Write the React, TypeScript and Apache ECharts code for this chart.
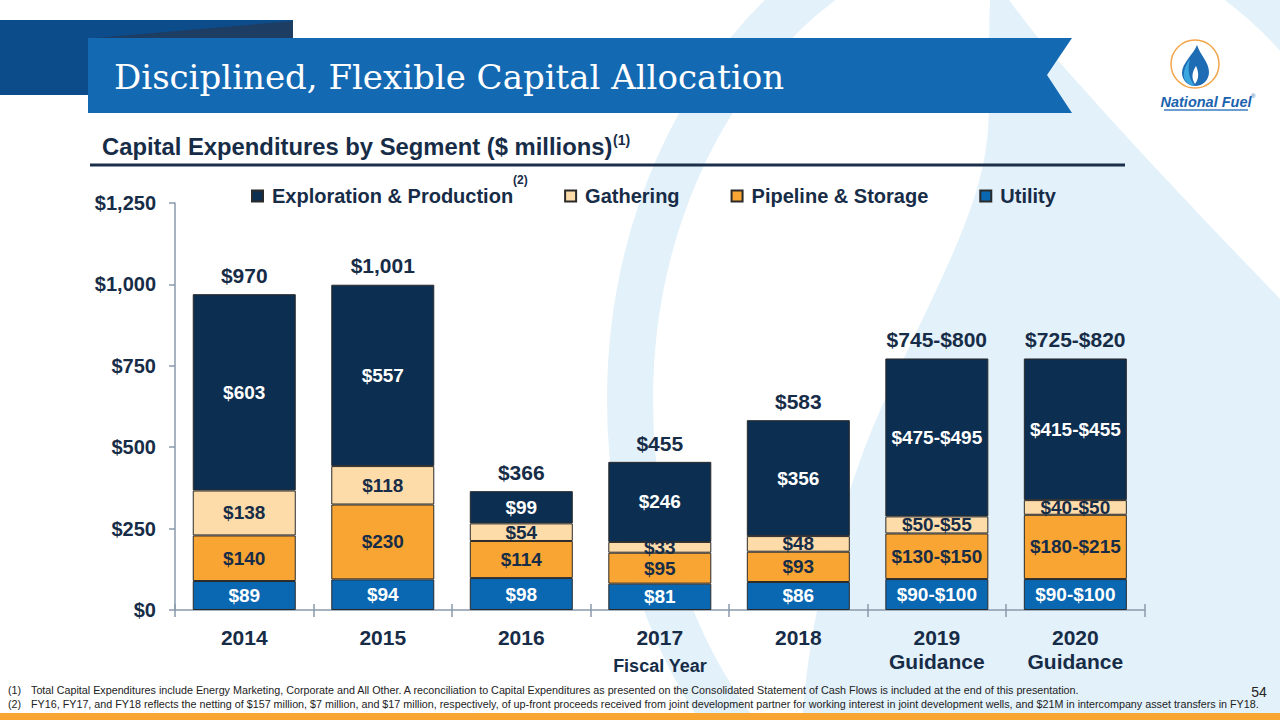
import React, { useEffect, useRef } from "react";
import * as echarts from "echarts";

const categories = ["2014", "2015", "2016", "2017", "2018", "2019\nGuidance", "2020\nGuidance"];
const utility = [89, 94, 98, 81, 86, 95, 95];
const utilityLabels = ["$89", "$94", "$98", "$81", "$86", "$90-$100", "$90-$100"];
const pipeline = [140, 230, 114, 95, 93, 140, 197.5];
const pipelineLabels = ["$140", "$230", "$114", "$95", "$93", "$130-$150", "$180-$215"];
const gathering = [138, 118, 54, 33, 48, 52.5, 45];
const gatheringLabels = ["$138", "$118", "$54", "$33", "$48", "$50-$55", "$40-$50"];
const exploration = [603, 557, 99, 246, 356, 485, 435];
const explorationLabels = ["$603", "$557", "$99", "$246", "$356", "$475-$495", "$415-$455"];
const totals = [970, 1001, 366, 455, 583, 772.5, 772.5];
const totalLabels = ["$970", "$1,001", "$366", "$455", "$583", "$745-$800", "$725-$820"];
const yTickLabels = ["$0", "$250", "$500", "$750", "$1,000", "$1,250"];
const legendNames = ["Exploration & Production", "Gathering", "Pipeline & Storage", "Utility"];

const FOOT1 =
  "Total Capital Expenditures include Energy Marketing, Corporate and All Other. A reconciliation to Capital Expenditures as presented on the Consolidated Statement of Cash Flows is included at the end of this presentation.";
const FOOT2 =
  "FY16, FY17, and FY18 reflects the netting of $157 million, $7 million, and $17 million, respectively, of up-front proceeds received from joint development partner for working interest in joint development wells, and $21M in intercompany asset transfers in FY18.";

const SANS = "Liberation Sans, Arial, sans-serif";
const DARK = "#172C47";
const WM = "#E3F1FA";

let registered = false;
function registerShapes() {
  if (registered) return;
  registered = true;
  echarts.graphic.registerShape(
    "wmFlame",
    echarts.graphic.extendPath(
      "M 992 -30 C 986 40 992 100 987 140 C 978 230 905 340 862 455 C 830 545 805 630 800 760 L 1400 760 L 1400 420 C 1330 350 1180 200 1040 40 C 1020 15 1000 -10 992 -30 Z",
      {}
    )
  );
  echarts.graphic.registerShape(
    "logoFlame",
    echarts.graphic.extendPath(
      "M 1197 45 C 1193 55 1182 63 1182 73 C 1182 80 1188 86 1195 86 C 1203 86 1209 80 1209 72 C 1209 62 1200 55 1197 45 Z",
      {}
    )
  );
  echarts.graphic.registerShape(
    "logoInner",
    echarts.graphic.extendPath(
      "M 1190 59 C 1185 66 1183 72 1184 78 C 1186 83 1191 86 1195 86 C 1189 79 1187 70 1190 59 Z",
      {}
    )
  );
  echarts.graphic.registerShape(
    "logoWhite",
    echarts.graphic.extendPath(
      "M 1196 66 C 1192 72 1191 78 1195 84 C 1199 79 1199 72 1196 66 Z",
      {}
    )
  );
}

export default function App() {
  const ref = useRef<HTMLDivElement>(null);

  useEffect(() => {
    if (!ref.current) return;
    registerShapes();
    const chart = echarts.init(ref.current, null, { renderer: "svg" });

    const segLabel = (labels: string[], color: string) => ({
      show: true,
      position: "inside",
      formatter: (p: any) => labels[p.dataIndex],
      color,
      fontSize: 19,
      fontWeight: "bold",
      fontFamily: SANS,
    });

    const common = {
      type: "bar",
      stack: "capex",
      barWidth: 103,
      xAxisIndex: 0,
      yAxisIndex: 0,
    };

    const border = { borderColor: "#2A2A2A", borderWidth: 1 };
    const foot = "10.75px " + SANS;

    const option: any = {
      animation: false,
      backgroundColor: "#ffffff",
      textStyle: { fontFamily: SANS },
      grid: { left: 175, right: 135.4, top: 203, bottom: 110, containLabel: false },
      legend: {
        data: legendNames,
        left: 251,
        top: 186,
        padding: 0,
        itemGap: 51,
        itemWidth: 11,
        itemHeight: 11,
        icon: "rect",
        textStyle: { fontSize: 20, fontWeight: "bold", color: DARK, fontFamily: SANS, padding: [0, 0, 0, 4] },
        selectedMode: false,
      },
      xAxis: [
        {
          type: "category",
          data: categories,
          position: "bottom",
          axisLine: { show: true, lineStyle: { color: "#8A9AAB", width: 1.5 } },
          axisTick: { show: true, length: 7, lineStyle: { color: "#8A9AAB", width: 1.5 } },
          axisLabel: {
            fontSize: 21,
            fontWeight: "bold",
            color: DARK,
            fontFamily: SANS,
            margin: 15,
            lineHeight: 24,
          },
        },
        {
          type: "category",
          data: categories,
          position: "bottom",
          axisLine: { show: false },
          axisTick: { show: true, inside: true, length: 6, lineStyle: { color: "#8A9AAB", width: 1.5 } },
          axisLabel: { show: false },
        },
      ],
      yAxis: {
        type: "value",
        min: 0,
        max: 1250,
        interval: 250,
        axisLine: { show: true, lineStyle: { color: "#8A9AAB", width: 1.5 } },
        axisTick: { show: true, length: 6, lineStyle: { color: "#8A9AAB", width: 1.5 } },
        splitLine: { show: false },
        axisLabel: {
          formatter: (v: number) => yTickLabels[Math.round(v / 250)],
          fontSize: 20,
          fontWeight: "bold",
          color: DARK,
          fontFamily: SANS,
          margin: 19,
        },
      },
      series: [
        {
          ...common,
          name: "Utility",
          data: utility,
          itemStyle: { color: "#0A67B2", ...border },
          label: segLabel(utilityLabels, "#ffffff"),
        },
        {
          ...common,
          name: "Pipeline & Storage",
          data: pipeline,
          itemStyle: { color: "#F9A533", ...border },
          label: segLabel(pipelineLabels, DARK),
        },
        {
          ...common,
          name: "Gathering",
          data: gathering,
          itemStyle: { color: "#FEDCAA", ...border },
          label: segLabel(gatheringLabels, DARK),
        },
        {
          ...common,
          name: "Exploration & Production",
          data: exploration,
          itemStyle: { color: "#0C2E50", ...border },
          label: segLabel(explorationLabels, "#ffffff"),
        },
        {
          type: "bar",
          name: "Total",
          data: totals,
          barWidth: 103,
          barGap: "-100%",
          z: 1,
          silent: true,
          itemStyle: { color: "rgba(0,0,0,0)" },
          label: {
            show: true,
            position: "top",
            distance: 8,
            formatter: (p: any) => totalLabels[p.dataIndex],
            color: DARK,
            fontSize: 21,
            fontWeight: "bold",
            fontFamily: SANS,
          },
        },
      ],
      graphic: [
        // watermark
        {
          type: "ellipse",
          z: -10,
          silent: true,
          shape: { cx: 1030, cy: 400, rx: 400, ry: 490 },
          style: { fill: "none", stroke: WM, lineWidth: 46 },
        },
        { type: "wmFlame", z: -10, silent: true, style: { fill: WM } },
        // banner
        { type: "rect", z: 10, shape: { x: 0, y: 20, width: 293, height: 75 }, style: { fill: "#0C4C8B" } },
        {
          type: "polygon",
          z: 10,
          shape: { points: [[95, 38], [293, 21], [293, 38]] },
          style: { fill: "#1E3D63" },
        },
        {
          type: "polygon",
          z: 11,
          shape: { points: [[88, 38], [1072, 38], [1047, 75], [1072, 113], [88, 113]] },
          style: { fill: "#1469B3" },
        },
        {
          type: "text",
          z: 12,
          x: 114,
          y: 77,
          style: {
            text: "Disciplined, Flexible Capital Allocation",
            fill: "#ffffff",
            font: "34px 'DejaVu Serif', serif",
            textVerticalAlign: "middle",
          },
        },
        // subtitle
        {
          type: "text",
          z: 12,
          x: 102,
          y: 146,
          style: {
            text: "Capital Expenditures by Segment ($ millions)",
            fill: DARK,
            font: "bold 23.8px " + SANS,
            textVerticalAlign: "middle",
          },
        },
        {
          type: "text",
          z: 12,
          x: 613,
          y: 140,
          style: { text: "(1)", fill: DARK, font: "bold 14px " + SANS, textVerticalAlign: "middle" },
        },
        {
          type: "line",
          z: 12,
          shape: { x1: 90, y1: 165, x2: 1125, y2: 165 },
          style: { stroke: "#1C2F4A", lineWidth: 3 },
        },
        // legend superscript
        {
          type: "text",
          z: 12,
          x: 513,
          y: 180,
          style: { text: "(2)", fill: DARK, font: "bold 12px " + SANS, textVerticalAlign: "middle" },
        },
        // axis title
        {
          type: "text",
          z: 12,
          x: 660,
          y: 666,
          style: {
            text: "Fiscal Year",
            fill: DARK,
            font: "bold 18px " + SANS,
            textAlign: "center",
            textVerticalAlign: "middle",
          },
        },
        // logo
        {
          type: "ellipse",
          z: 12,
          shape: { cx: 1195, cy: 64, rx: 24, ry: 24 },
          style: { fill: "#ffffff", stroke: "#F2A649", lineWidth: 1.5 },
        },
        { type: "logoFlame", z: 13, style: { fill: "#1E6CB4" } },
        { type: "logoInner", z: 14, style: { fill: "#3AA7DF" } },
        { type: "logoWhite", z: 15, style: { fill: "#ffffff" } },
        {
          type: "text",
          z: 12,
          x: 1206,
          y: 102,
          style: {
            text: "National Fuel",
            fill: "#1B63AE",
            font: "italic bold 14.5px " + SANS,
            textAlign: "center",
            textVerticalAlign: "middle",
          },
        },
        {
          type: "text",
          z: 12,
          x: 1251,
          y: 96,
          style: { text: "®", fill: "#1B63AE", font: "6px " + SANS, textVerticalAlign: "middle" },
        },
        {
          type: "line",
          z: 12,
          shape: { x1: 1164, y1: 110, x2: 1248, y2: 110 },
          style: { stroke: "#3A7CC0", lineWidth: 1.5 },
        },
        // footnotes
        {
          type: "text",
          z: 12,
          x: 8,
          y: 690,
          style: { text: "(1)", fill: "#222222", font: foot, textVerticalAlign: "middle" },
        },
        {
          type: "text",
          z: 12,
          x: 31,
          y: 690,
          style: { text: FOOT1, fill: "#222222", font: foot, textVerticalAlign: "middle" },
        },
        {
          type: "text",
          z: 12,
          x: 8,
          y: 704,
          style: { text: "(2)", fill: "#222222", font: foot, textVerticalAlign: "middle" },
        },
        {
          type: "text",
          z: 12,
          x: 31,
          y: 704,
          style: { text: FOOT2, fill: "#222222", font: foot, textVerticalAlign: "middle" },
        },
        {
          type: "text",
          z: 12,
          x: 1259,
          y: 692,
          style: {
            text: "54",
            fill: "#222222",
            font: "14px " + SANS,
            textAlign: "center",
            textVerticalAlign: "middle",
          },
        },
        {
          type: "rect",
          z: 12,
          shape: { x: 0, y: 713, width: 1280, height: 7 },
          style: { fill: "#F8A532" },
        },
      ],
    };

    chart.setOption(option);
    return () => chart.dispose();
  }, []);

  return (
    <div
      ref={ref}
      style={{ position: "fixed", left: 0, top: 0, width: 1280, height: 720, background: "#fff" }}
    />
  );
}
